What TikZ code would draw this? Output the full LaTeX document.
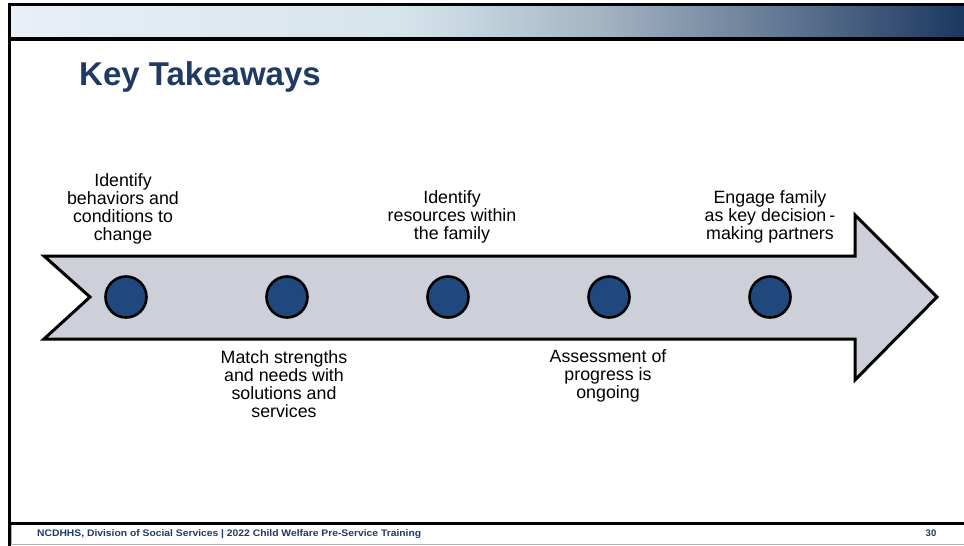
\documentclass[tikz,border=0pt]{standalone}
\usepackage{fontspec}
\usepackage{graphicx}
\setmainfont{Liberation Sans}
\definecolor{navy}{HTML}{1F3B63}
\definecolor{dotblue}{HTML}{1F497D}
\definecolor{arrowfill}{HTML}{CDD0D9}
\definecolor{g1}{HTML}{E9EFF6}
\definecolor{g2}{HTML}{D6E4EC}
\definecolor{g3}{HTML}{C3D3DD}
\definecolor{g4}{HTML}{A3B4C3}
\definecolor{g5}{HTML}{6E829B}
\definecolor{g6}{HTML}{1C3860}
\pgfdeclarehorizontalshading{topband}{100bp}{color(0bp)=(g1); color(25bp)=(g1); color(45.4bp)=(g2); color(49.6bp)=(g3); color(55.9bp)=(g4); color(63.8bp)=(g5); color(75bp)=(g6); color(100bp)=(g6)}
\tikzset{
  dot/.style={circle, draw=black, line width=2.6pt, fill=dotblue, minimum size=41pt, inner sep=0pt},
  lbl/.style={align=center, font=\fontsize{17.8}{18}\selectfont, inner sep=0pt},
  frameline/.style={draw=black, line width=3pt},
}
\begin{document}
\begin{tikzpicture}[x=1pt,y=-1pt]
\useasboundingbox (0,0) rectangle (964,546);
\fill[white] (0,0) rectangle (964,546);
% top band
\shade[shading=topband] (11,6) rectangle (964,37);
\draw[frameline] (8,4.5) -- (964,4.5);
\draw[draw=black, line width=4pt] (8,39) -- (964,39);
\draw[frameline] (9.5,3) -- (9.5,546);
\draw[frameline] (8,523.5) -- (964,523.5);
\draw[gray!60, line width=0.8pt] (11.5,525) -- (11.5,544) -- (964,544);
% title
\node[anchor=base west, inner sep=0pt, text=navy, font=\fontsize{33}{36}\selectfont\bfseries] (title) at (79,85) {Key Takeaways};
% arrow
\draw[fill=arrowfill, draw=black, line width=3pt, line join=miter]
  (44,256) -- (855,256) -- (855,215) -- (937,297) -- (855,380) -- (855,339) -- (44,339) -- (90,297) -- cycle;
% dots
\node[dot] (c1) at (126,297) {};
\node[dot] (c2) at (287,297) {};
\node[dot] (c3) at (448,297) {};
\node[dot] (c4) at (609,297) {};
\node[dot] (c5) at (770,297) {};
% labels
\node[lbl] (t1) at (123,209) {Identify\\behaviors and\\conditions to\\change};
\node[lbl] (t2) at (284,384.5) {Match strengths\\and needs with\\solutions and\\services};
\node[lbl] (t3) at (452,217) {Identify\\resources within\\the family};
\node[lbl] (t4) at (608,376) {Assessment of\\progress is\\ongoing};
\node[lbl] (t5) at (770,217) {Engage family\\as key decision\,-\\making partners};
% footer
\node[anchor=base west, inner sep=0pt, text=navy] (foot) at (37,536.5)
  {\resizebox{384pt}{\height}{\fontsize{9.5}{10}\selectfont\bfseries NCDHHS, Division of Social Services | 2022 Child Welfare Pre-Service Training}};
\node[anchor=base, inner sep=0pt, text=navy, font=\fontsize{9.5}{10}\selectfont\bfseries] (pg) at (931,536.5) {30};
\end{tikzpicture}
\end{document}
